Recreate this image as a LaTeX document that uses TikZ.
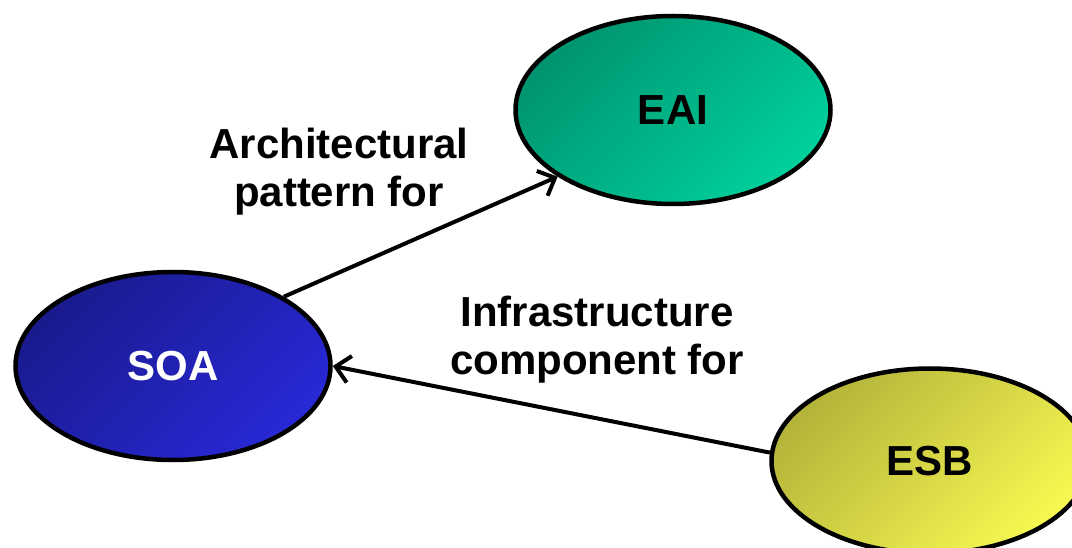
\documentclass[tikz,border=0pt]{standalone}
\usepackage{fontspec}
\setmainfont{Liberation Sans}
\usetikzlibrary{shapes.geometric,arrows.meta}
\definecolor{soaA}{HTML}{1A1A8E}
\definecolor{soaB}{HTML}{2828D6}
\definecolor{eaiA}{HTML}{009470}
\definecolor{eaiB}{HTML}{00D09C}
\definecolor{esbA}{HTML}{B4B43A}
\definecolor{esbB}{HTML}{F8F852}
\tikzset{
  blob/.style 2 args={ellipse, draw=black, line width=4.5pt, minimum width=315pt,
    minimum height=188pt, inner sep=0pt, top color=#1, bottom color=#2,
    shading angle=45,
    font=\fontsize{42}{46}\selectfont\bfseries},
  lbl/.style={align=center, font=\fontsize{42}{48}\selectfont\bfseries},
  link/.style={line width=4pt, -{Straight Barb[length=14pt,width=27pt]}}
}
\begin{document}
\begin{tikzpicture}[x=1pt,y=-1pt]
\useasboundingbox (0,0) rectangle (1072,548);
\clip (0,0) rectangle (1072,548);
\node[blob={soaA}{soaB}, text=white] (SOA) at (173,366) {SOA};
\node[blob={eaiA}{eaiB}] (EAI) at (673,110) {EAI};
\node[blob={esbA}{esbB}, minimum width=317pt, minimum height=185pt] (ESB) at (930,461) {ESB};
\node[lbl] (L1) at (339,172) {Architectural\\pattern for};
\node[lbl] (L2) at (597,340) {Infrastructure\\component for};
\draw[link] (SOA.32.6) -- (EAI.210.6);
\draw[link] (ESB.177) -- (SOA.0);
\end{tikzpicture}
\end{document}
